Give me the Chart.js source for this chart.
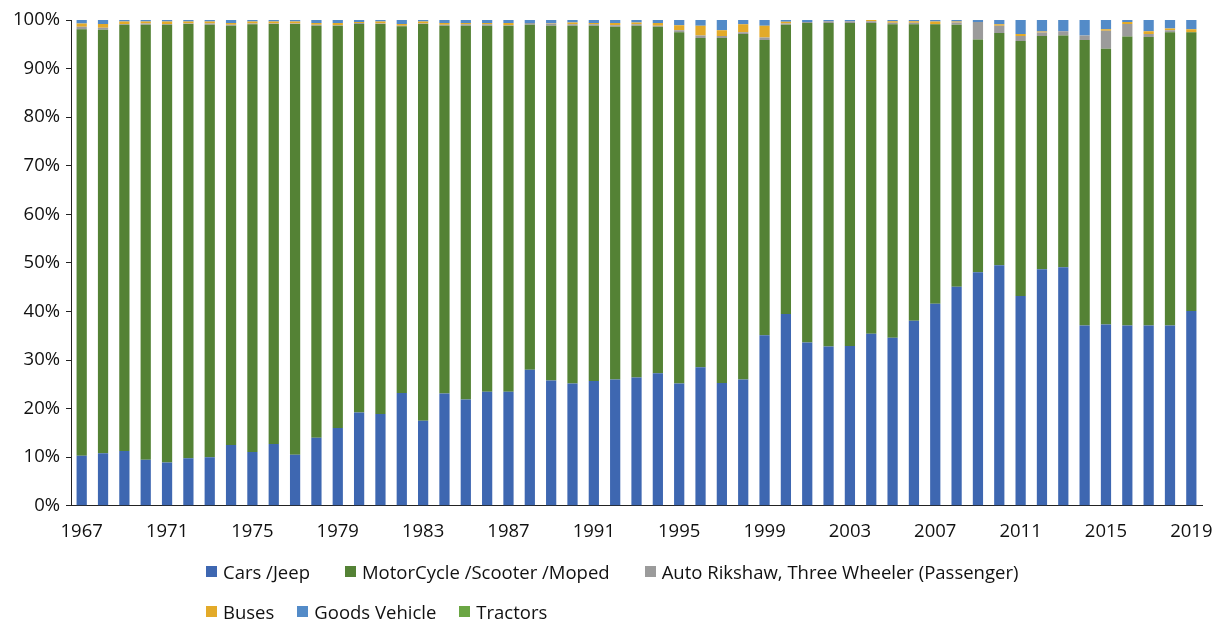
<!DOCTYPE html>
<html>
<head>
<meta charset="utf-8">
<script src="https://cdn.jsdelivr.net/npm/chart.js@4.4.1/dist/chart.umd.min.js"></script>
<style>
    body { margin: 0; background: #fff; }
    #wrap { position: relative; width: 1222px; height: 621px; }
    #box { position: absolute; left: 0; top: 0; width: 1222px; height: 562px; }
    #legend { position: absolute; left: 206px; top: 556px; font-family: "Open Sans", sans-serif; font-size: 18.5px; color: #111; }
    .row { display: flex; height: 30px; align-items: center; margin-bottom: 10px; }
    .item { display: flex; align-items: center; }
    .sw { width: 11px; height: 11px; margin-right: 6px; }
</style>
</head>
<body>
<div id="wrap">
    <div id="box"><canvas id="vehicleChart"></canvas></div>
    <div id="legend"></div>
</div>
<script>
// years 1967 - 2019
const years = ['1967','1968','1969','1970','1971','1972','1973','1974','1975','1976','1977','1978','1979','1980',
    '1981','1982','1983','1984','1985','1986','1987','1988','1989','1990','1991','1992','1993','1994','1995','1996',
    '1997','1998','1999','2000','2001','2002','2003','2004','2005','2006','2007','2008','2009','2010','2011','2012',
    '2013','2014','2015','2016','2017','2018','2019'];

// share of registered vehicles, %
const cars = [10.3,10.8,11.3,9.5,8.9,9.8,10.0,12.5,11.1,12.7,10.5,14.0,16.0,19.2,
    18.9,23.2,17.5,23.1,21.9,23.5,23.5,28.0,25.8,25.2,25.7,26.0,26.4,27.3,25.2,28.5,
    25.3,26.0,35.1,39.5,33.6,32.8,32.9,35.4,34.6,38.1,41.6,45.1,48.1,49.5,43.2,48.7,
    49.1,37.1,37.3,37.1,37.1,37.1,40.1];
const motorcycles = [87.8,87.2,87.7,89.5,90.1,89.4,89.0,86.3,88.0,86.5,88.7,84.8,82.8,80.0,
    80.3,75.5,81.7,75.7,76.9,75.3,75.3,71.0,73.0,73.6,73.1,72.6,72.4,71.3,72.3,67.8,
    71.0,71.1,60.8,59.5,65.8,66.6,66.5,64.0,64.5,61.0,57.5,53.9,47.9,47.8,52.5,48.0,
    47.7,58.8,56.8,59.5,59.4,60.4,57.4];
const autoRikshaw = [0.5,0.4,0.2,0.3,0.2,0.1,0.3,0.2,0.2,0.1,0.1,0.2,0.1,0.2,
    0.1,0.1,0.1,0.2,0.3,0.3,0.1,0.4,0.5,0.3,0.3,0.3,0.3,0.2,0.4,0.5,
    0.4,0.4,0.5,0.3,0.2,0.35,0.35,0.35,0.35,0.35,0.1,0.5,3.6,1.5,1.0,0.75,
    0.9,0.9,3.7,2.6,0.6,0.4,0];
const buses = [0.7,0.8,0.5,0.4,0.5,0.4,0.4,0.4,0.4,0.4,0.4,0.4,0.5,0.2,
    0.4,0.4,0.4,0.4,0.3,0.3,0.5,0,0.1,0.4,0.3,0.5,0.4,0.6,1.0,2.0,
    1.2,1.6,2.4,0.35,0,0,0,0.25,0.3,0.3,0.5,0.2,0,0.35,0.4,0.2,
    0,0,0.3,0.4,0.6,0.35,0.6];
const goods = [0.7,0.8,0.3,0.3,0.3,0.3,0.3,0.6,0.3,0.3,0.3,0.6,0.6,0.4,
    0.3,0.8,0.3,0.6,0.6,0.6,0.6,0.6,0.6,0.5,0.6,0.6,0.5,0.6,1.1,1.2,
    2.1,0.9,1.2,0.35,0.4,0.25,0.25,0,0.25,0.25,0.3,0.35,0.4,0.85,2.9,2.35,
    2.3,3.2,1.9,0.4,2.3,1.75,1.9];
const tractors = years.map(() => 0);

const seriesNames = ['Cars /Jeep', 'MotorCycle /Scooter /Moped', 'Auto Rikshaw, Three Wheeler (Passenger)',
    'Buses', 'Goods Vehicle', 'Tractors'];
const seriesColors = ['#3E67B1', '#548235', '#9B9B9B', '#E3AA29', '#538BC8', '#6BA644'];
const yTicks = [0, 10, 20, 30, 40, 50, 60, 70, 80, 90, 100];

const FONT = { family: '"Open Sans", sans-serif', size: 18.5 };

const seriesData = [cars, motorcycles, autoRikshaw, buses, goods, tractors];

const vehicleChart = new Chart(document.getElementById('vehicleChart'), {
    type: 'bar',
    data: {
        labels: years,
        datasets: seriesData.map((d, i) => ({
            label: seriesNames[i],
            data: d,
            backgroundColor: seriesColors[i],
            barPercentage: 0.48,
            categoryPercentage: 1
        }))
    },
    options: {
        responsive: true,
        maintainAspectRatio: false,
        animation: false,
        layout: { padding: { left: 7, right: 20, top: 20, bottom: 4 } },
        plugins: {
            legend: { display: false },
            tooltip: { enabled: false }
        },
        scales: {
            x: {
                stacked: true,
                grid: { display: false, drawTicks: false },
                border: { color: '#222', width: 1 },
                afterFit: function(s) { s.paddingLeft = 0; s.paddingRight = 0; },
                ticks: {
                    autoSkip: false,
                    maxRotation: 0,
                    padding: 15,
                    color: '#111',
                    font: FONT,
                    callback: function(v, i) { return i % 4 === 0 ? years[i] : ''; }
                }
            },
            y: {
                stacked: true,
                min: 0,
                max: 100,
                afterBuildTicks: function(axis) { axis.ticks = yTicks.map(v => ({ value: v })); },
                afterFit: function(s) { s.paddingTop = 0; s.paddingBottom = 0; },
                grid: { drawOnChartArea: false, drawTicks: true, tickLength: 5, color: '#222' },
                border: { color: '#222', width: 1 },
                ticks: {
                    padding: 6,
                    color: '#111',
                    font: FONT,
                    callback: v => v + '%'
                }
            }
        }
    }
});

// legend, laid out in two rows like the original
const legendRows = [[0, 1, 2], [3, 4, 5]];
const rowGaps = [35, 23];
const legendEl = document.getElementById('legend');
legendRows.forEach(function(row, r) {
    const rowEl = document.createElement('div');
    rowEl.className = 'row';
    rowEl.style.gap = rowGaps[r] + 'px';
    row.forEach(function(idx) {
        const item = document.createElement('div');
        item.className = 'item';
        item.innerHTML = '<span class="sw" style="background:' + seriesColors[idx] + '"></span>' + seriesNames[idx];
        rowEl.appendChild(item);
    });
    legendEl.appendChild(rowEl);
});
</script>
</body>
</html>
